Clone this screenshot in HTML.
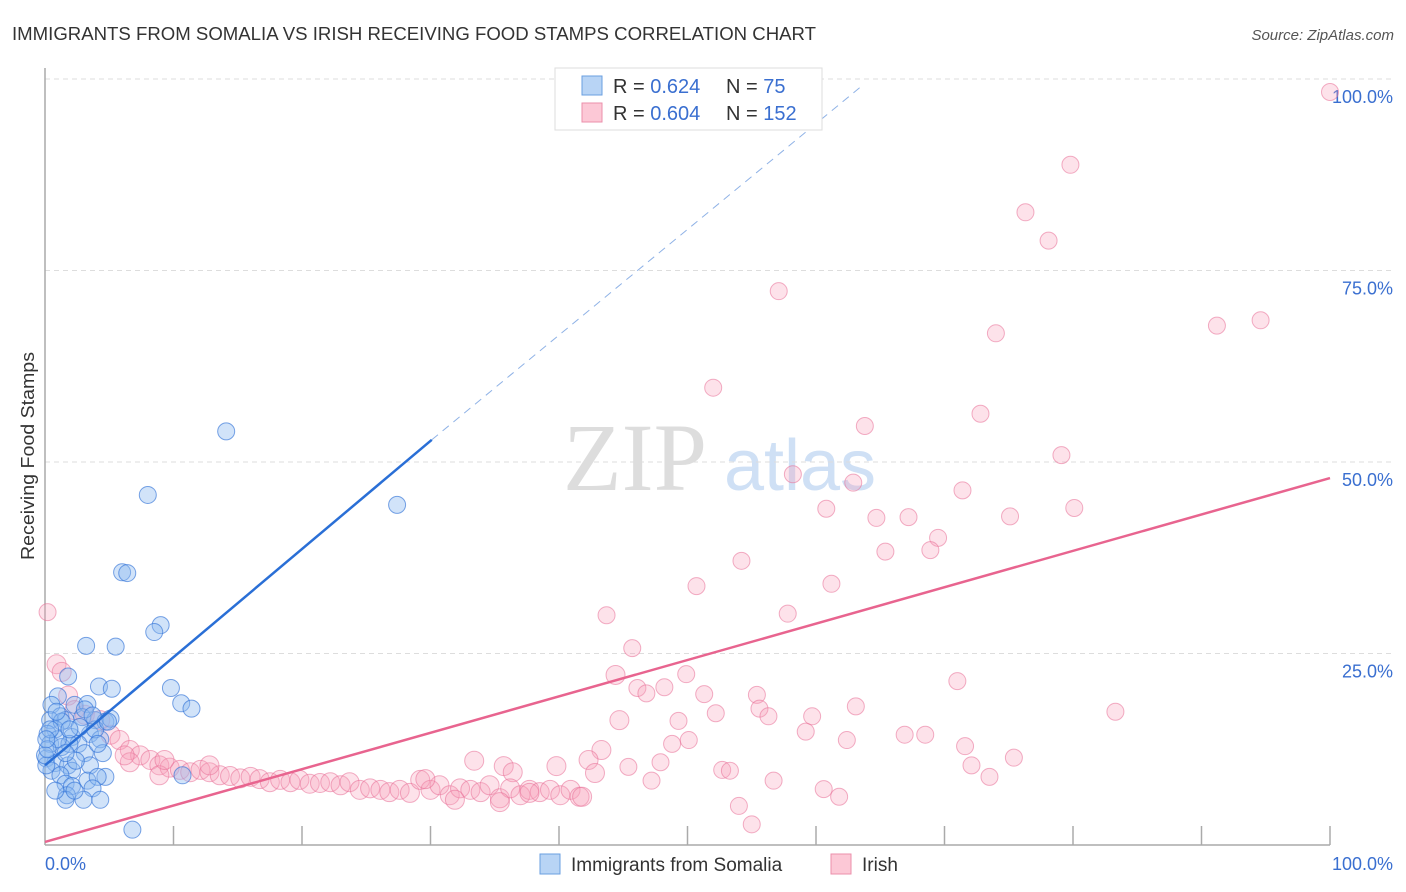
<!DOCTYPE html>
<html><head><meta charset="utf-8"><style>
body{margin:0;background:#fff;font-family:"Liberation Sans",sans-serif}
</style></head><body>
<svg id="chart" width="1406" height="892" xmlns="http://www.w3.org/2000/svg" style="display:block">
<text x="12" y="40" font-size="18" fill="#333" textLength="804" lengthAdjust="spacingAndGlyphs">IMMIGRANTS FROM SOMALIA VS IRISH RECEIVING FOOD STAMPS CORRELATION CHART</text>
<text x="1394" y="40" font-size="15" fill="#555" text-anchor="end" font-style="italic">Source: ZipAtlas.com</text>
<text x="34" y="456" font-size="18" fill="#333" text-anchor="middle" transform="rotate(-90 34 456)" textLength="208" lengthAdjust="spacingAndGlyphs">Receiving Food Stamps</text>
<g>
<text x="635" y="490" font-size="96" fill="#ddd" font-family="Liberation Serif" text-anchor="middle">ZIP</text>
<text x="800" y="490" font-size="72" fill="#cfe0f5" text-anchor="middle">atlas</text>
</g>
<g id="grid"></g><g id="axes"></g><g id="pink"></g><g id="blue"></g><g id="lines"></g>
<g>
<rect x="555" y="68" width="267" height="62" fill="#fff" stroke="#ddd"/>
<rect x="582" y="76" width="20" height="19" fill="#b8d4f5" stroke="#6a9fe0"/>
<rect x="582" y="103" width="20" height="19" fill="#fcc8d6" stroke="#eb8fab"/>
<text x="613" y="93" font-size="20" fill="#333">R = <tspan fill="#3a6fd0"> 0.624</tspan></text>
<text x="726" y="93" font-size="20" fill="#333">N = <tspan fill="#3a6fd0">  75</tspan></text>
<text x="613" y="120" font-size="20" fill="#333">R = <tspan fill="#3a6fd0">0.604</tspan></text>
<text x="726" y="120" font-size="20" fill="#333">N = <tspan fill="#3a6fd0">152</tspan></text>
</g>
<g>
<rect x="540" y="854" width="20" height="20" fill="#b8d4f5" stroke="#6a9fe0"/>
<text x="571" y="871" font-size="19" fill="#333">Immigrants from Somalia</text>
<rect x="831" y="854" width="20" height="20" fill="#fcc8d6" stroke="#eb8fab"/>
<text x="862" y="871" font-size="19" fill="#333">Irish</text>
</g>
</svg>
<script>
const xTicks=[0,100];
const yTicks=[25,50,75,100];
const blueX=[14.1,8,27.4,6,6.4,9,8.5,3.2,5.5,1.8,4.2,5.2,9.8,10.6,11.4,1,0.5,2.3,3.3,1.2,0.4,1.6,2.9,3.9,4.7,0.8,0.2,2.1,3.5,4.3,2.6,0.4,1.3,3.1,4.5,0.1,0.8,1.8,3.5,0.5,2.1,1.2,3.3,4.7,0.1,1.6,2.1,4.1,3.7,10.7,0,1.7,3,4.3,1.6,6.8,1.9,1,2.7,3.9,1.3,2.4,1.6,4.1,0.2,0.4,0.9,3.1,3.7,1.9,5.1,0.1,2.3,0.8,4.9];
const blueY=[54,45.7,44.4,35.6,35.5,28.7,27.8,26,25.9,22,20.7,20.4,20.5,18.5,17.8,19.4,18.3,18.3,18.4,16.8,16.3,16.3,16.7,16.3,16.1,15.1,14.5,14.1,14.5,13.8,13.2,13.2,12.8,12,12,11.3,10.7,10.4,10.4,9.7,9.7,9.1,8.4,8.9,10.4,8,7.7,8.9,7.4,9.1,11.7,6.5,5.9,5.9,5.9,2,13.2,13.8,15.4,15.1,16.1,11,12,13.2,12.5,15.1,17.4,17.7,16.9,15.1,16.5,13.8,7.1,7.1,16.1];
const pinkX=[100,79.8,76.3,78.1,57.1,74.0,91.2,94.6,52.0,72.8,63.8,79.1,58.2,62.9,71.4,60.8,80.1,64.7,67.2,75.1,69.5,68.9,65.4,54.2,50.7,61.2,43.7,57.8,45.7,71.0,44.4,49.9,46.1,46.8,48.2,51.3,55.4,83.3,55.6,52.2,56.3,44.7,49.3,63.1,59.7,59.2,62.4,50.1,48.8,66.9,68.5,71.6,43.3,47.9,75.4,72.1,73.5,33.4,35.7,36.4,39.8,42.3,45.4,52.7,53.3,42.8,47.2,56.7,60.6,61.8,54.0,55.0,
0.2,0.9,1.3,1.8,2.3,3.1,4.3,5.1,5.8,6.6,7.4,8.2,8.9,
9.7,10.5,11.3,12.1,12.8,13.6,14.4,15.2,16.0,16.7,17.5,18.3,19.1,19.8,20.6,21.4,22.2,23.0,23.7,24.5,25.3,26.1,26.8,27.6,28.4,29.2,30.0,30.7,31.5,32.3,33.1,33.9,34.6,35.4,36.2,37.0,37.7,38.5,39.3,40.1,40.9,41.6,
29.6,31.9,35.4,41.8,37.7,8.9,6.6,6.2,9.3,12.8];
const pinkY=[98.3,88.8,82.6,78.9,72.3,66.8,67.8,68.5,59.7,56.3,54.7,50.9,48.4,47.3,46.3,43.9,44.0,42.7,42.8,42.9,40.1,38.5,38.3,37.1,33.8,34.1,30.0,30.2,25.7,21.4,22.2,22.3,20.5,19.8,20.6,19.7,19.6,17.4,17.8,17.2,16.8,16.3,16.2,18.1,16.8,14.8,13.7,13.7,13.2,14.4,14.4,12.9,12.4,10.8,11.4,10.4,8.9,11.0,10.3,9.5,10.3,11.1,10.2,9.8,9.7,9.4,8.4,8.4,7.3,6.3,5.1,2.7,
30.4,23.6,22.6,19.5,17.6,17.0,16.3,14.4,13.7,12.4,11.7,11.1,10.4,
10.1,9.8,9.5,9.8,9.5,9.1,9.0,8.7,8.9,8.6,8.2,8.5,8.2,8.5,8.0,8.1,8.2,7.8,8.2,7.2,7.4,7.2,6.9,7.2,6.8,8.5,7.2,7.8,6.5,7.4,7.2,6.9,7.8,6.1,7.4,6.5,7.2,6.9,7.2,6.5,7.2,6.3,
8.6,5.9,5.6,6.3,6.8,9.1,10.8,11.7,11.1,10.4];
const blueLine=[[0,10.4],[30.1,52.9]];
const blueDash=[[30.1,52.9],[63.5,99]];
const pinkLine=[[0,0.4],[100,47.9]];
const NS='http://www.w3.org/2000/svg';
const sx=v=>45+v*12.85, sy=v=>845-v*7.66;
function mk(t,a,p){const e=document.createElementNS(NS,t);for(const k in a)e.setAttribute(k,a[k]);p.appendChild(e);return e;}
const grid=document.getElementById('grid'),axes=document.getElementById('axes');
yTicks.forEach(t=>{
 const l=mk('line',{x1:45,x2:1394,y1:sy(t),y2:sy(t),stroke:'#ddd','stroke-dasharray':'5,4'},grid);
 
 
 const tx=mk('text',{x:1393,y:sy(t)+24,'font-size':18,fill:'#3a6fd0','text-anchor':'end'},axes);
 tx.textContent=t.toFixed(1)+'%';
 
 
});
mk('line',{x1:45,x2:45,y1:68,y2:845,stroke:'#aaa','stroke-width':1.5},axes);
mk('line',{x1:45,x2:1330,y1:845,y2:845,stroke:'#aaa','stroke-width':1.5},axes);
for(let i=1;i<=10;i++){mk('line',{x1:sx(i*10),x2:sx(i*10),y1:826,y2:845,stroke:'#aaa','stroke-width':1.5},axes);}
xTicks.forEach((t,i)=>{
 const tx=mk('text',{x:i?1393:45,y:870,'font-size':18,fill:'#3a6fd0','text-anchor':i?'end':'start'},axes);
 tx.textContent=t.toFixed(1)+'%';
 
 
});
const pg=document.getElementById('pink');
pinkX.forEach((x,i)=>{
 const c=mk('circle',{cx:sx(x),cy:sy(pinkY[i]),r:x<45&&pinkY[i]<25?9.5:8.5,fill:'rgba(248,160,185,0.3)',stroke:'rgba(232,110,150,0.55)','stroke-width':1},pg);
 
 
});
const bg=document.getElementById('blue');
blueX.forEach((x,i)=>{
 const c=mk('circle',{cx:sx(x),cy:sy(blueY[i]),r:8.5,fill:'rgba(140,185,240,0.4)',stroke:'rgba(50,115,215,0.65)','stroke-width':1},bg);
 
 
});
const lg=document.getElementById('lines');
let l=mk('line',{x1:sx(blueLine[0][0]),y1:sy(blueLine[0][1]),x2:sx(blueLine[1][0]),y2:sy(blueLine[1][1]),stroke:'#2a6fd6','stroke-width':2.5},lg);


l=mk('line',{x1:sx(blueDash[0][0]),y1:sy(blueDash[0][1]),x2:sx(blueDash[1][0]),y2:sy(blueDash[1][1]),stroke:'#8fb2e6','stroke-width':1,'stroke-dasharray':'8,6'},lg);


l=mk('line',{x1:sx(pinkLine[0][0]),y1:sy(pinkLine[0][1]),x2:sx(pinkLine[1][0]),y2:sy(pinkLine[1][1]),stroke:'#e8648f','stroke-width':2.5},lg);


</script>
</body></html>
